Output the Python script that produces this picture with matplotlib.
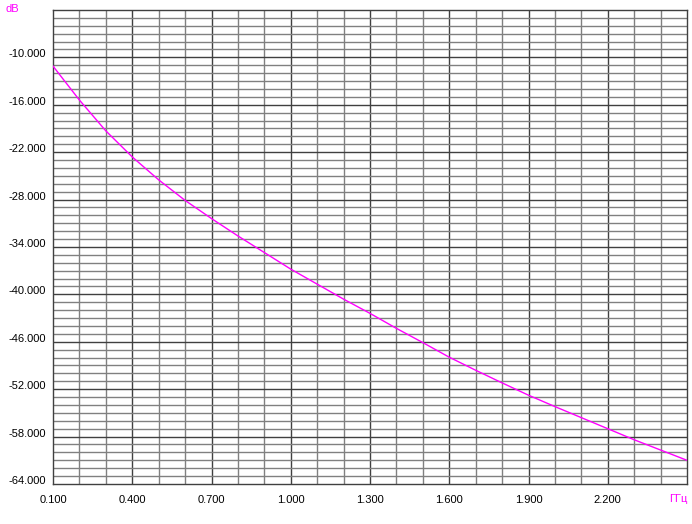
import numpy as np
import matplotlib
matplotlib.use('Agg')
import matplotlib.pyplot as plt

plt.rcParams['font.family'] = ['Liberation Sans', 'DejaVu Sans']

freq = [0.1, 0.2, 0.3, 0.4, 0.5, 0.6, 0.7, 0.8, 0.9, 1.0, 1.1, 1.2, 1.3,
        1.4, 1.5, 1.6, 1.7, 1.8, 1.9, 2.0, 2.1, 2.2, 2.3, 2.4, 2.5]
level = [-11.1, -15.4, -19.3, -22.6, -25.5, -28.1, -30.4, -32.6, -34.7,
         -36.8, -38.7, -40.6, -42.4, -44.3, -46.1, -47.95, -49.6, -51.2,
         -52.76, -54.2, -55.6, -57.0, -58.4, -59.7, -61.0]

x_ticks = [0.1, 0.4, 0.7, 1.0, 1.3, 1.6, 1.9, 2.2]
y_ticks = [-64, -58, -52, -46, -40, -34, -28, -22, -16, -10]

fig = plt.figure(figsize=(6.92, 5.24), dpi=100, facecolor='white')
ax = fig.add_axes([53/692, 1-484/524, 634/692, 474/524])

# minor grid (every 0.1 GHz / 1 dB) and major grid (every 0.3 GHz / 6 dB)
for xv in np.arange(1, 24):
    f = 0.1 + xv*0.1
    c = '#404040' if xv % 3 == 0 else '#808080'
    ax.axvline(f, color=c, lw=1.0, zorder=1)
for yv in range(-63, -4):
    c = '#404040' if (yv + 64) % 6 == 0 else '#808080'
    ax.axhline(yv, color=c, lw=1.0, zorder=1)

ax.plot(freq, level, color='#ff00ff', lw=1.0, zorder=3)

ax.set_xlim(0.1, 2.5)
ax.set_ylim(-64, -4)
ax.set_xticks(x_ticks)
ax.set_xticklabels(['%.3f' % v for v in x_ticks])
ax.set_yticks(y_ticks)
ax.set_yticklabels(['%.3f' % v for v in y_ticks])
ax.tick_params(length=0, labelsize=8, colors='black')
ax.tick_params(axis='x', pad=8)
ax.tick_params(axis='y', pad=5)
for lab in ax.get_yticklabels():
    lab.set_va('baseline')

for s in ax.spines.values():
    s.set_color('#404040')
    s.set_linewidth(1.0)

fig.text(5/692, 1-9/524, 'dB', color='#ff00ff', fontsize=8, va='center', ha='left')
fig.text(678/692, 1-499/524, 'ГГц', color='#ff00ff', fontsize=8, va='center', ha='center')

fig.savefig('out.png', dpi=100, facecolor='white')
